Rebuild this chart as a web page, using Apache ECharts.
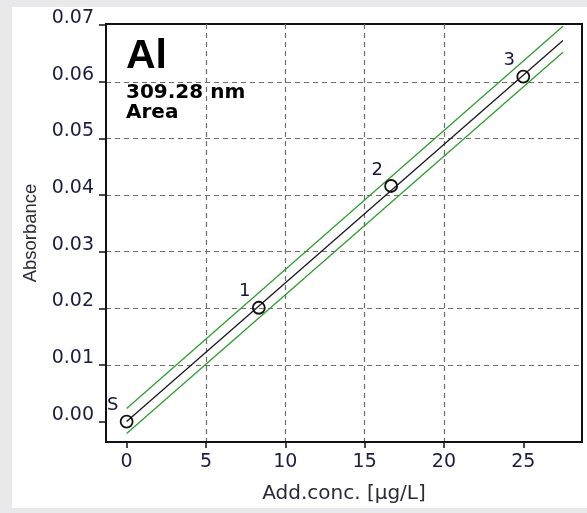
<!DOCTYPE html>
<html>
<head>
<meta charset="utf-8">
<script src="https://cdn.jsdelivr.net/npm/echarts@6/dist/echarts.min.js"></script>
<style>
  html, body { margin: 0; padding: 0; background: #fff; }
  #chart { width: 587px; height: 513px; }
</style>
</head>
<body>
<div id="chart"></div>
<script>
// standard addition points
var addConc = [0, 8.33, 16.67, 25]
var absorbance = [0.0000, 0.0201, 0.0416, 0.0609]
var pointNames = ['S', '1', '2', '3']
// regression line and confidence band (read at the ends)
var fitConc = [0, 27.5]
var fitAbs = [0.0000, 0.0673]
var upperAbs = [0.0023, 0.0698]
var lowerAbs = [-0.0021, 0.0652]
// tick labels
var xTicks = [0, 5, 10, 15, 20, 25]
var yTicks = [0, 0.01, 0.02, 0.03, 0.04, 0.05, 0.06, 0.07]

function pairs (xs, ys) {
  return xs.map(function (x, i) { return [x, ys[i]] })
}

var txtColor = '#1c1c44'
var gridDash = { color: '#6e6e6e', width: 1.2, type: [5, 4] }

var myChart = echarts.init(document.getElementById('chart'))
var option = {
  backgroundColor: '#fff',
  animation: false,
  graphic: [
    { type: 'rect', shape: { x: 0, y: 0, width: 587, height: 7 }, style: { fill: '#e9e9ec' } },
    { type: 'rect', shape: { x: 0, y: 0, width: 12, height: 513 }, style: { fill: '#e9e9ec' } },
    { type: 'rect', shape: { x: 0, y: 508, width: 587, height: 5 }, style: { fill: '#e9e9ec' } }
  ],
  title: {
    text: 'Al',
    subtext: '309.28 nm\nArea',
    left: 121,
    top: 31,
    itemGap: 6,
    textStyle: { fontFamily: 'Liberation Sans', fontWeight: 'bold', fontSize: 41, color: '#000' },
    subtextStyle: { fontFamily: 'DejaVu Sans', fontWeight: 'bold', fontSize: 20, color: '#000', lineHeight: 20 }
  },
  grid: {
    left: 106, top: 24, right: 5, bottom: 71,
    show: true, borderColor: '#111', borderWidth: 2, backgroundColor: 'transparent'
  },
  xAxis: {
    type: 'value',
    min: -1.3,
    max: 28.7,
    splitNumber: 6,
    name: 'Add.conc. [µg/L]',
    nameLocation: 'middle',
    nameGap: 42,
    nameTextStyle: { fontFamily: 'DejaVu Sans', fontSize: 20, color: '#2a2a3a' },
    axisLine: { show: true, onZero: false, lineStyle: { color: '#111', width: 2 } },
    axisTick: { show: true, length: 6, customValues: xTicks, lineStyle: { color: '#111', width: 1.5 } },
    axisLabel: {
      customValues: xTicks, margin: 11,
      fontFamily: 'DejaVu Sans', fontSize: 19, color: txtColor
    },
    splitLine: { show: true, showMinLine: false, showMaxLine: false, lineStyle: gridDash }
  },
  yAxis: {
    type: 'value',
    min: -0.0036,
    max: 0.0702,
    splitNumber: 7,
    name: 'Absorbance',
    nameLocation: 'middle',
    nameGap: 66,
    nameTextStyle: { fontFamily: 'Liberation Sans', fontSize: 18.5, color: '#2a2a3a' },
    axisLine: { show: true, onZero: false, lineStyle: { color: '#111', width: 2 } },
    axisTick: { show: true, length: 7, customValues: yTicks, lineStyle: { color: '#111', width: 1.5 } },
    axisLabel: {
      customValues: yTicks, margin: 12,
      verticalAlign: 'bottom', lineHeight: 14,
      fontFamily: 'DejaVu Sans', fontSize: 19, color: txtColor,
      formatter: function (v) { return v.toFixed(2) }
    },
    splitLine: { show: true, showMinLine: false, showMaxLine: false, lineStyle: gridDash }
  },
  series: [
    {
      name: 'upper',
      type: 'line',
      data: pairs(fitConc, upperAbs),
      symbol: 'none',
      lineStyle: { color: '#2e9e2e', width: 1.3 },
      z: 3
    },
    {
      name: 'lower',
      type: 'line',
      data: pairs(fitConc, lowerAbs),
      symbol: 'none',
      lineStyle: { color: '#2e9e2e', width: 1.3 },
      z: 3
    },
    {
      name: 'fit',
      type: 'line',
      data: pairs(fitConc, fitAbs),
      symbol: 'none',
      lineStyle: { color: '#1a1a1a', width: 1.3 },
      z: 4
    },
    {
      name: 'points',
      type: 'scatter',
      data: pairs(addConc, absorbance),
      symbol: 'circle',
      symbolSize: 12,
      itemStyle: { color: 'rgba(255,255,255,0)', borderColor: '#111', borderWidth: 1.8, opacity: 1 },
      label: {
        show: true,
        position: 'inside',
        offset: [-14, -16],
        fontFamily: 'DejaVu Sans',
        fontSize: 18,
        color: '#14143c',
        opacity: 1,
        formatter: function (p) { return pointNames[p.dataIndex] }
      },
      z: 5
    }
  ]
}
myChart.setOption(option)
</script>
</body>
</html>
